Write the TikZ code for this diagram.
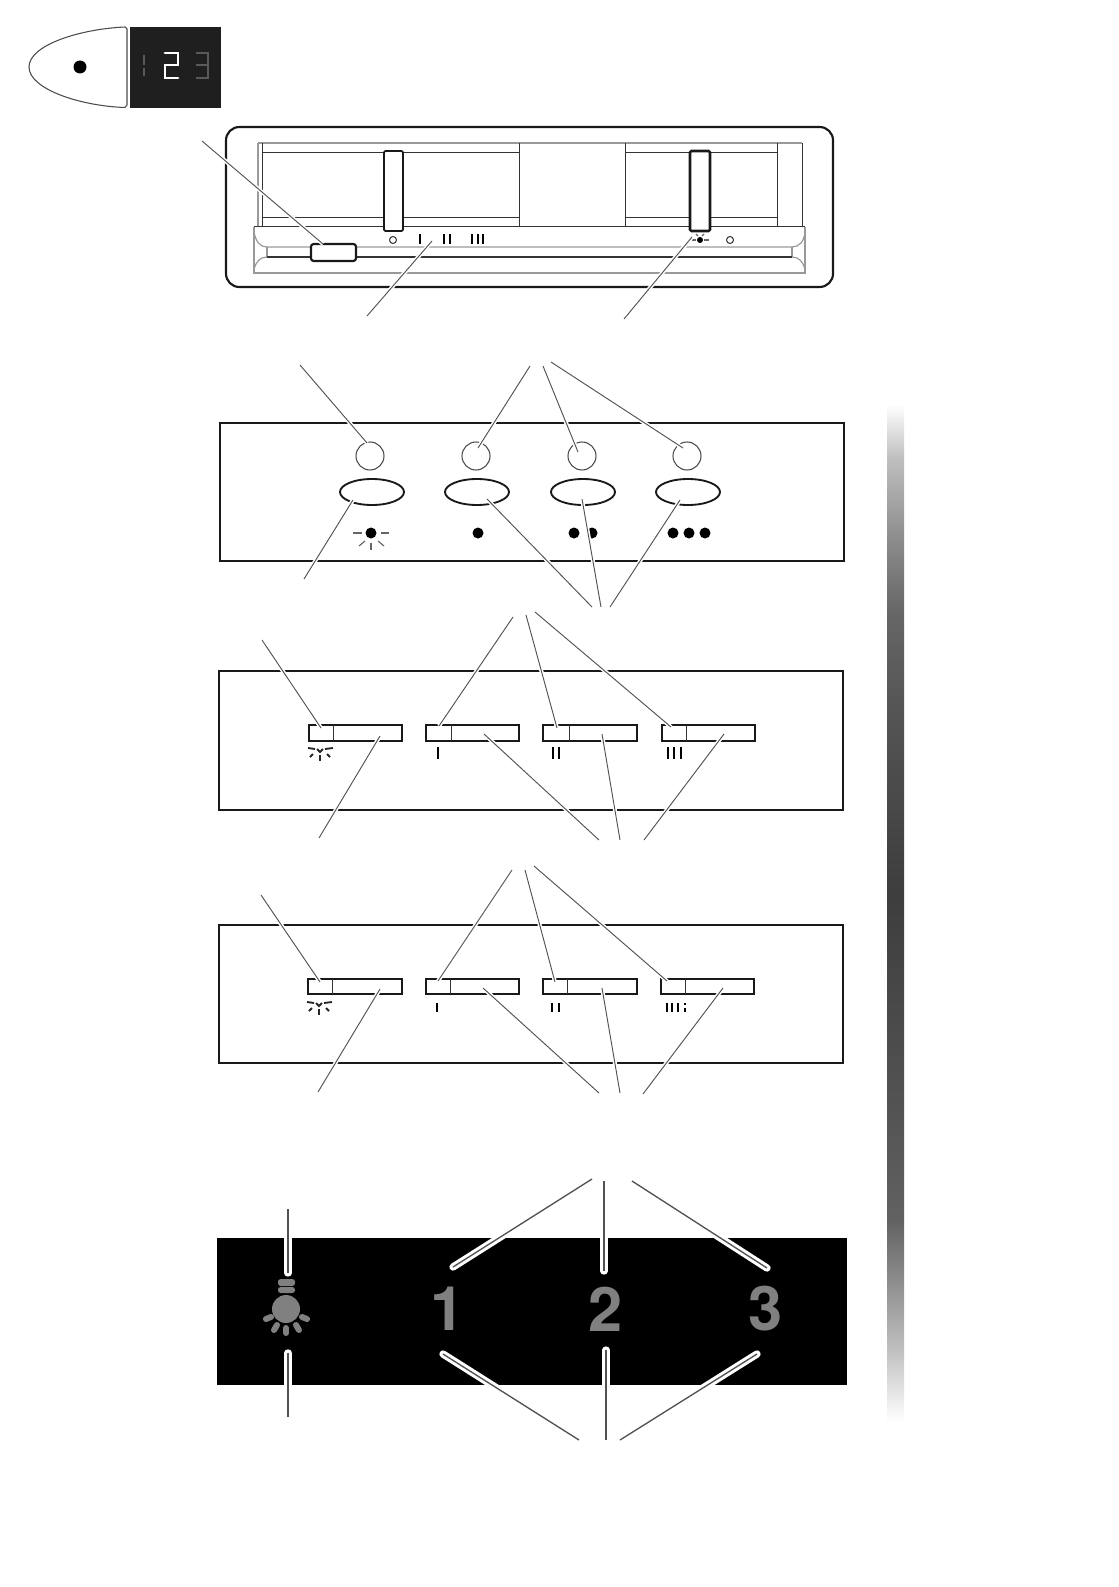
\documentclass[tikz,border=0pt]{standalone}
\usepackage{fontspec}
\setsansfont{TeX Gyre Heros}
\usepackage{xcolor}
\usepackage{tikz}

\definecolor{leadergray}{gray}{0.32}
\definecolor{stripgray}{gray}{0.6}
\definecolor{lampgray}{gray}{0.5}
\definecolor{screenblack}{gray}{0.12}

\pgfdeclareverticalshading{barshade}{100bp}{
  color(0bp)=(white); color(25bp)=(white);
  color(28.6bp)=(black!25); color(32bp)=(black!45); color(35bp)=(black!62);
  color(40bp)=(black!67); color(51bp)=(black!76); color(59.9bp)=(black!67);
  color(64.8bp)=(black!60); color(68.4bp)=(black!45); color(72.4bp)=(black!25);
  color(75bp)=(white); color(100bp)=(white)}

\tikzset{
  frame/.style={draw=black!90, line width=1.6pt},
  thinline/.style={draw=black!80, line width=0.75pt},
  stripline/.style={draw=stripgray, line width=0.9pt},
  slider/.style={draw=black!90, line width=1.4pt},
  leader/.style={draw=leadergray, line width=0.7pt, preaction={draw=white, line width=3pt}},
  leaderwide/.style={draw=leadergray, line width=1pt, preaction={draw=white, line width=5.5pt, line cap=round}},
  tick/.style={draw=black, line width=1.8pt},
  ray/.style={draw=black!60, line width=0.9pt},
  sunray/.style={draw=black!85, line width=1.4pt},
  lampray/.style={draw=lampgray, line width=4.5pt, line cap=round},
  bignum/.style={text=lampgray, font=\sffamily\bfseries\fontsize{46}{46}\selectfont, inner sep=0pt}
}

\begin{document}
\begin{tikzpicture}[x=0.75pt, y=-0.75pt]
\useasboundingbox (0,0) rectangle (1119,1587);

% side bar
\shade[shading=barshade] (887,405) rectangle (904,1422);

% top icon
\draw[draw=black!70, line width=0.8pt] (125,27) .. controls (80,29) and (29,45) .. (29,67)
  .. controls (29,89) and (80,106) .. (125,107.5) -- (127,105) -- (127,29) -- cycle;
\fill[black] (80,67) circle (6.5);
\fill[screenblack] (130,27) rectangle (221,108);
\draw[draw=black!65, line width=1.8pt] (144,55) -- (144,65);
\draw[draw=black!65, line width=1.8pt] (144,68) -- (144,76);
\draw[draw=white, line width=2.1pt, line cap=round] (165,53) -- (178,53) -- (178,65) -- (165,65) -- (165,78) -- (178,78);
\draw[draw=black!65, line width=1.8pt] (196,53) -- (208,53) -- (208,78) -- (196,78);
\draw[draw=black!65, line width=1.8pt] (196,65) -- (208,65);

% panel 1
\draw[frame, rounded corners=10pt] (226,127) rectangle (833,287);
\draw[stripline] (258,143) -- (802,143);
\draw[stripline] (258,143) -- (258,227);
\draw[thinline] (262,143) -- (262,227);
\draw[thinline] (262,153) -- (519,153);
\draw[thinline] (262,218) -- (519,218);
\draw[thinline] (519,143) -- (519,227);
\draw[thinline] (625,143) -- (625,227);
\draw[thinline] (625,153) -- (777,153);
\draw[thinline] (625,218) -- (777,218);
\draw[thinline] (777,143) -- (777,227);
\draw[thinline] (802,143) -- (802,227);
\draw[thinline] (254,227) -- (805,227);
\draw[stripline] (254,227) -- (254,273) -- (805,273) -- (805,227);
\draw[stripline] (254,232) .. controls (256,242) and (260,247) .. (267,247) -- (792,247)
  .. controls (799,247) and (804,242) .. (805,232);
\draw[stripline] (254,269) .. controls (256,262) and (260,257) .. (267,257);
\draw[stripline] (805,269) .. controls (803,262) and (799,257) .. (792,257);
\draw[stripline] (267,247) -- (267,257);
\draw[stripline] (792,247) -- (792,257);
\draw[thinline] (267,257) -- (792,257);
\draw[slider, fill=white, rounded corners=1pt] (384,151) rectangle (403,231);
\draw[slider, line width=1.9pt, fill=white, rounded corners=1pt] (690,151) rectangle (710,231);
\draw[slider, line width=1.6pt, fill=white, rounded corners=2pt] (311,244) rectangle (356,261);
\draw[thinline] (393,240) circle (3.5);
\draw[tick] (420,234) -- (420,244);
\draw[tick] (444,234) -- (444,244);
\draw[tick] (450,234) -- (450,244);
\draw[tick] (472,234) -- (472,244);
\draw[tick] (478,234) -- (478,244);
\draw[tick, line width=0.9pt] (483,234) -- (483,244);
\fill[black] (700,240) circle (3);
\draw[ray] (692,240) -- (696,240);
\draw[ray] (704,240) -- (709,240);
\draw[ray] (696,234) -- (698,236);
\draw[ray] (704,234) -- (702,236);
\draw[thinline] (730,240) circle (3.5);

\coordinate (topA) at (202,141);
\coordinate (topAend) at (323,244);
\coordinate (topB) at (367,316);
\coordinate (topBend) at (432,241);
\coordinate (topC) at (624,319);
\coordinate (topCend) at (692,237);
\draw[leader] (topA) -- (topAend);
\draw[leader] (topB) -- (topBend);
\draw[leader] (topC) -- (topCend);

% panel 2
\draw[frame] (220,423) rectangle (844,561);
\draw[draw=black!70, line width=0.8pt] (370,456) circle (14);
\draw[draw=black!70, line width=0.8pt] (476,456) circle (14);
\draw[draw=black!70, line width=0.8pt] (582,456) circle (14);
\draw[draw=black!70, line width=0.8pt] (687,456) circle (14);
\draw[slider] (372,492) ellipse (32 and 13);
\draw[slider] (477,492) ellipse (32 and 13);
\draw[slider] (583,492) ellipse (32 and 13);
\draw[slider] (688,492) ellipse (32 and 13);
\fill[black] (371,533) circle (5.5);
\draw[ray] (353,533) -- (362,533);
\draw[ray] (381,533) -- (389,533);
\draw[ray] (359,546) -- (365,541);
\draw[ray] (371,543) -- (371,550);
\draw[ray] (378,541) -- (384,546);
\fill[black] (478,533) circle (5.5);
\fill[black] (574,533) circle (5.5);
\fill[black] (592,533) circle (5.5);
\fill[black] (673,533) circle (5.5);
\fill[black] (689,533) circle (5.5);
\fill[black] (705,533) circle (5.5);

\coordinate (ledA) at (300,365);
\coordinate (ledAend) at (367,443);
\coordinate (ledB) at (530,366);
\coordinate (ledBend) at (478,448);
\coordinate (ledC) at (543,366);
\coordinate (ledCend) at (578,452);
\coordinate (ledD) at (551,362);
\coordinate (ledDend) at (683,448);
\coordinate (keyA) at (304,579);
\coordinate (keyAend) at (353,500);
\coordinate (keyB) at (592,607);
\coordinate (keyBend) at (487,499);
\coordinate (keyC) at (601,607);
\coordinate (keyCend) at (582,499);
\coordinate (keyD) at (610,607);
\coordinate (keyDend) at (680,500);
\draw[leader] (ledA) -- (ledAend);
\draw[leader] (ledB) -- (ledBend);
\draw[leader] (ledC) -- (ledCend);
\draw[leader] (ledD) -- (ledDend);
\draw[leader] (keyA) -- (keyAend);
\draw[leader] (keyB) -- (keyBend);
\draw[leader] (keyC) -- (keyCend);
\draw[leader] (keyD) -- (keyDend);

% panel 3
\draw[frame] (219,671) rectangle (843,810);
\draw[slider] (309,725) rectangle (402,741);
\draw[thinline] (333,725) -- (333,741);
\draw[slider] (426,725) rectangle (519,741);
\draw[thinline] (451,725) -- (451,741);
\draw[slider] (543,725) rectangle (637,741);
\draw[thinline] (569,725) -- (569,741);
\draw[slider] (662,725) rectangle (755,741);
\draw[thinline] (686,725) -- (686,741);
\draw[sunray] (308,748) -- (315,749);
\draw[sunray] (325,749) -- (333,748);
\draw[sunray] (317,749) -- (320,752) -- (323,749);
\draw[sunray] (310,757) -- (313,754);
\draw[sunray] (320,755) -- (320,761);
\draw[sunray] (327,754) -- (330,757);
\draw[tick] (438,747) -- (438,759);
\draw[tick] (553,747) -- (553,759);
\draw[tick] (559,747) -- (559,759);
\draw[tick] (668,747) -- (668,759);
\draw[tick] (674,747) -- (674,759);
\draw[tick] (681,747) -- (681,759);

\coordinate (midA) at (262,640);
\coordinate (midAend) at (321,728);
\coordinate (midB) at (513,617);
\coordinate (midBend) at (439,726);
\coordinate (midC) at (526,615);
\coordinate (midCend) at (557,728);
\coordinate (midD) at (535,612);
\coordinate (midDend) at (671,727);
\coordinate (midE) at (319,838);
\coordinate (midEend) at (380,736);
\coordinate (midF) at (599,840);
\coordinate (midFend) at (484,734);
\coordinate (midG) at (620,840);
\coordinate (midGend) at (602,734);
\coordinate (midH) at (644,840);
\coordinate (midHend) at (724,734);
\draw[leader] (midA) -- (midAend);
\draw[leader] (midB) -- (midBend);
\draw[leader] (midC) -- (midCend);
\draw[leader] (midD) -- (midDend);
\draw[leader] (midE) -- (midEend);
\draw[leader] (midF) -- (midFend);
\draw[leader] (midG) -- (midGend);
\draw[leader] (midH) -- (midHend);

% panel 4
\draw[frame] (219,925) rectangle (843,1063);
\draw[slider] (308,979) rectangle (402,994);
\draw[thinline] (332,979) -- (332,994);
\draw[slider] (426,979) rectangle (519,994);
\draw[thinline] (450,979) -- (450,994);
\draw[slider] (543,979) rectangle (637,994);
\draw[thinline] (567,979) -- (567,994);
\draw[slider] (661,979) rectangle (754,994);
\draw[thinline] (685,979) -- (685,994);
\draw[sunray] (307,1002) -- (314,1003);
\draw[sunray] (324,1003) -- (332,1002);
\draw[sunray] (316,1003) -- (319,1006) -- (322,1003);
\draw[sunray] (309,1011) -- (312,1008);
\draw[sunray] (319,1009) -- (319,1015);
\draw[sunray] (326,1008) -- (329,1011);
\draw[tick] (437,1003) -- (437,1012);
\draw[tick] (552,1003) -- (552,1012);
\draw[tick] (559,1003) -- (559,1012);
\draw[tick] (667,1003) -- (667,1012);
\draw[tick] (672,1003) -- (672,1012);
\draw[tick] (678,1003) -- (678,1012);
\draw[tick] (685,1003) -- (685,1005);
\draw[tick] (685,1008) -- (685,1012);

\coordinate (lowA) at (261,895);
\coordinate (lowAend) at (320,982);
\coordinate (lowB) at (512,870);
\coordinate (lowBend) at (438,981);
\coordinate (lowC) at (525,870);
\coordinate (lowCend) at (555,982);
\coordinate (lowD) at (534,866);
\coordinate (lowDend) at (667,981);
\coordinate (lowE) at (318,1092);
\coordinate (lowEend) at (380,989);
\coordinate (lowF) at (599,1093);
\coordinate (lowFend) at (483,988);
\coordinate (lowG) at (620,1093);
\coordinate (lowGend) at (602,988);
\coordinate (lowH) at (643,1094);
\coordinate (lowHend) at (723,988);
\draw[leader] (lowA) -- (lowAend);
\draw[leader] (lowB) -- (lowBend);
\draw[leader] (lowC) -- (lowCend);
\draw[leader] (lowD) -- (lowDend);
\draw[leader] (lowE) -- (lowEend);
\draw[leader] (lowF) -- (lowFend);
\draw[leader] (lowG) -- (lowGend);
\draw[leader] (lowH) -- (lowHend);

% panel 5
\fill[black] (217,1238) rectangle (847,1385);
\fill[lampgray] (286,1309) circle (14);
\fill[lampgray, rounded corners=2pt] (278,1279) rectangle (295,1286);
\fill[lampgray, rounded corners=2pt] (278,1287) rectangle (295,1293);
\draw[lampray] (266,1319) -- (271,1317);
\draw[lampray] (274,1330) -- (277,1325);
\draw[lampray] (286,1333) -- (286,1328);
\draw[lampray] (299,1330) -- (296,1325);
\draw[lampray] (307,1319) -- (302,1317);
\node[bignum] (one) at (448,1309) {1};
\node[bignum] (two) at (606,1309) {2};
\node[bignum] (three) at (766,1309) {3};

\coordinate (lampA) at (288,1209);
\coordinate (lampAend) at (288,1273);
\coordinate (lampB) at (288,1417);
\coordinate (lampBend) at (288,1353);
\coordinate (numA) at (592,1179);
\coordinate (numAend) at (453,1267);
\coordinate (numB) at (604,1181);
\coordinate (numBend) at (604,1271);
\coordinate (numC) at (632,1181);
\coordinate (numCend) at (767,1268);
\coordinate (numD) at (579,1440);
\coordinate (numDend) at (443,1354);
\coordinate (numE) at (606,1440);
\coordinate (numEend) at (606,1350);
\coordinate (numF) at (620,1440);
\coordinate (numFend) at (757,1354);
\draw[leaderwide] (lampA) -- (lampAend);
\draw[leaderwide] (lampB) -- (lampBend);
\draw[leaderwide] (numA) -- (numAend);
\draw[leaderwide] (numB) -- (numBend);
\draw[leaderwide] (numC) -- (numCend);
\draw[leaderwide] (numD) -- (numDend);
\draw[leaderwide] (numE) -- (numEend);
\draw[leaderwide] (numF) -- (numFend);
\end{tikzpicture}
\end{document}
